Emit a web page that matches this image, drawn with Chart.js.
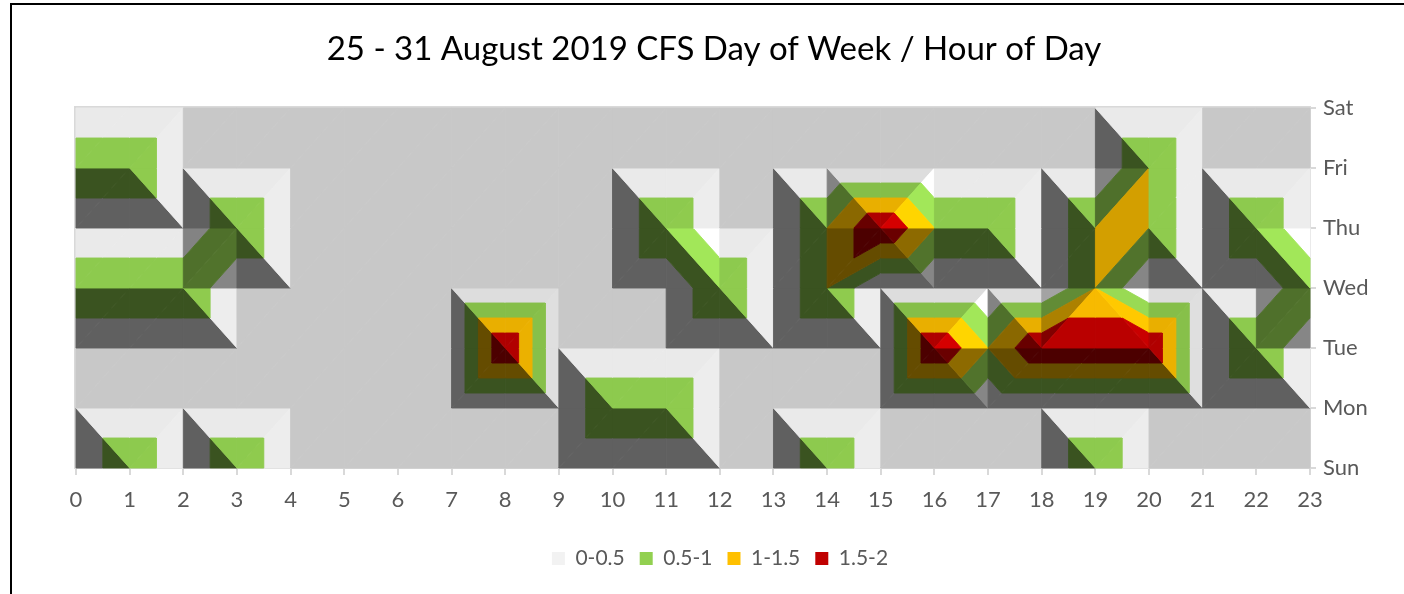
<!DOCTYPE html>
<html>
<head>
<meta charset="utf-8">
<title>25 - 31 August 2019 CFS Day of Week / Hour of Day</title>
<script src="https://cdn.jsdelivr.net/npm/chart.js@4/dist/chart.umd.min.js"></script>
<style>
html,body{margin:0;padding:0;background:#fff;overflow:hidden;width:1404px;height:594px}
#frame{position:absolute;left:10px;top:3px;width:1500px;height:700px;border:2px solid #000;pointer-events:none}
canvas{position:absolute;left:0;top:0}
</style>
</head>
<body>
<canvas id="c" width="1404" height="594"></canvas>
<div id="frame"></div>
<script>
const chartTitle = '25 - 31 August 2019 CFS Day of Week / Hour of Day';
const hours = [0,1,2,3,4,5,6,7,8,9,10,11,12,13,14,15,16,17,18,19,20,21,22,23];
const days = ['Sun','Mon','Tue','Wed','Thu','Fri','Sat'];
const sun = [0,1,0,1,0,0,0,0,0,0,0,0,0,0,1,0,0,0,0,1,0,0,0,0];
const mon = [0,0,0,0,0,0,0,0,0,0,1,1,0,0,0,0,0,0,0,0,0,0,0,0];
const tue = [0,0,0,0,0,0,0,0,2,0,0,0,0,0,0,0,2,1,2,2,2,0,1,0];
const wed = [1,1,1,0,0,0,0,0,0,0,0,0,1,0,1,0,0,0,0,1,0,0,0,1];
const thu = [0,0,0,1,0,0,0,0,0,0,0,1,0,0,1,2,1,1,0,1,1,0,1,0];
const fri = [1,1,0,0,0,0,0,0,0,0,0,0,0,0,0,0,0,0,0,0,1,0,0,0];
const sat = [0,0,0,0,0,0,0,0,0,0,0,0,0,0,0,0,0,0,0,0,0,0,0,0];
const rows = [sun,mon,tue,wed,thu,fri,sat];
const bandLabels = ['0-0.5','0.5-1','1-1.5','1.5-2'];
const bandLows = [0,0.5,1,1.5];
const bandStep = 0.5;
const bandColors = ['#f2f2f2','#92d050','#ffc000','#c00000'];

const inkGrey = '#595959';
const axisGrey = '#d9d9d9';
const fontName = 'Lato, Carlito, Calibri, sans-serif';

// Lighting of Excel's top-down surface: a face's shade depends on its slope.
const light = {ambient:0.397, x:0.43, y:0.42, z:0.43, slope:1.9};
function shadeOf(tri){
  const [a,b,c] = tri;
  const ux=b.x-a.x, uy=b.y-a.y, uz=b.z-a.z, vx=c.x-a.x, vy=c.y-a.y, vz=c.z-a.z;
  const det = ux*vy-uy*vx;
  const zx = (uz*vy-uy*vz)/det, zy = (ux*vz-uz*vx)/det;
  const nx=-light.slope*zx, ny=-light.slope*zy, len=Math.hypot(nx,ny,1);
  return light.ambient + Math.max(0,(nx*light.x+ny*light.y+light.z)/len);
}
function tint(hex,k){
  const n=parseInt(hex.slice(1),16);
  const f=v=>Math.min(255,Math.round(v*k));
  return `rgb(${f(n>>16)},${f((n>>8)&255)},${f(n&255)})`;
}
function clipZ(poly,limit,keepAbove){
  const out=[];
  const inside=p=>keepAbove? p.z>=limit : p.z<=limit;
  poly.forEach((p,i)=>{
    const q=poly[(i+1)%poly.length];
    if(inside(p)) out.push(p);
    if(inside(p)!==inside(q)){
      const t=(limit-p.z)/(q.z-p.z);
      out.push({x:p.x+t*(q.x-p.x),y:p.y+t*(q.y-p.y),z:limit});
    }
  });
  return out;
}
function area(poly){
  let s=0;
  poly.forEach((p,i)=>{const q=poly[(i+1)%poly.length]; s+=p.x*q.y-q.x*p.y;});
  return Math.abs(s)/2;
}
function triangles(){
  const list=[];
  for(let r=0;r<rows.length-1;r++){
    for(let h=0;h<hours.length-1;h++){
      const sw={x:hours[h],y:r,z:rows[r][h]}, se={x:hours[h+1],y:r,z:rows[r][h+1]};
      const nw={x:hours[h],y:r+1,z:rows[r+1][h]}, ne={x:hours[h+1],y:r+1,z:rows[r+1][h+1]};
      // split each cell along the diagonal that carries the higher values
      if(sw.z+ne.z>=nw.z+se.z){ list.push([sw,ne,nw],[sw,se,ne]); }
      else { list.push([nw,sw,se],[nw,se,ne]); }
    }
  }
  return list;
}
const surfacePlugin={
  id:'surface',
  afterLayout(chart){
    chart.legend.left-=20; chart.legend.right-=20;
    chart.titleBlock.left-=26; chart.titleBlock.right-=26;
  },
  beforeDatasetsDraw(chart){
    const {ctx,scales:{x,y},chartArea:ca}=chart;
    ctx.save();
    ctx.strokeStyle=axisGrey; ctx.lineWidth=2;
    ctx.beginPath();
    ctx.moveTo(ca.left-1,ca.bottom+1); ctx.lineTo(ca.left-1,ca.top-1); ctx.lineTo(ca.right+1,ca.top-1);
    ctx.stroke();
    ctx.lineJoin='round';
    triangles().forEach(tri=>{
      const k=shadeOf(tri), zs=tri.map(p=>p.z), flat=Math.max(...zs)===Math.min(...zs);
      bandLows.forEach((lo,b)=>{
        const hi=lo+bandStep;
        let poly;
        if(flat){
          const band=Math.min(bandLows.length-1,Math.floor(zs[0]/bandStep));
          if(band!==b) return;
          poly=tri;
        } else {
          poly=clipZ(clipZ(tri,lo,true),hi,false);
          if(poly.length<3 || area(poly)<1e-6) return;
        }
        const color=tint(bandColors[b],k);
        ctx.beginPath();
        poly.forEach((p,i)=>{
          const px=x.getPixelForValue(p.x), py=y.getPixelForValue(p.y);
          if(i) ctx.lineTo(px,py); else ctx.moveTo(px,py);
        });
        ctx.closePath();
        ctx.strokeStyle=color; ctx.lineWidth=0.9; ctx.stroke();
        ctx.fillStyle=color; ctx.fill();
      });
    });
    ctx.restore();
  }
};
const bandData=b=>{
  const pts=[];
  rows.forEach((row,r)=>row.forEach((v,h)=>{
    const band=Math.min(bandLows.length-1,Math.floor(v/bandStep));
    if(band===b) pts.push({x:hours[h],y:r});
  }));
  return pts;
};
new Chart(document.getElementById('c'),{
  type:'scatter',
  data:{datasets:bandLabels.map((label,b)=>({
    label,data:bandData(b),backgroundColor:bandColors[b],borderColor:bandColors[b],pointRadius:0,pointHoverRadius:0,borderWidth:0
  }))},
  options:{
    responsive:false,animation:false,devicePixelRatio:1,
    layout:{padding:{left:76,right:0,top:0,bottom:15}},
    plugins:{
      tooltip:{enabled:false},
      title:{display:true,text:chartTitle,color:'#000',font:{family:fontName,size:33,weight:'normal'},padding:{top:30,bottom:38.4}},
      legend:{position:'bottom',labels:{boxWidth:13,boxHeight:13,padding:15,color:inkGrey,font:{family:fontName,size:21}}}
    },
    scales:{
      x:{type:'linear',min:0,max:23,
        ticks:{stepSize:1,autoSkip:false,maxRotation:0,color:inkGrey,font:{family:fontName,size:22},padding:12},
        grid:{display:true,drawOnChartArea:false,drawTicks:true,tickLength:7,color:axisGrey,lineWidth:2},
        border:{display:true,color:axisGrey,width:2},
        afterFit(s){s.height=65;}},
      y:{type:'linear',position:'right',min:0,max:6,
        ticks:{stepSize:1,autoSkip:false,color:inkGrey,font:{family:fontName,size:22},padding:7,
          callback:v=>days[v]},
        grid:{display:true,drawOnChartArea:false,drawTicks:true,tickLength:6,color:axisGrey,lineWidth:2},
        border:{display:true,color:axisGrey,width:2},
        afterFit(s){s.width=94;}}
    }
  },
  plugins:[surfacePlugin]
});
</script>
</body>
</html>
